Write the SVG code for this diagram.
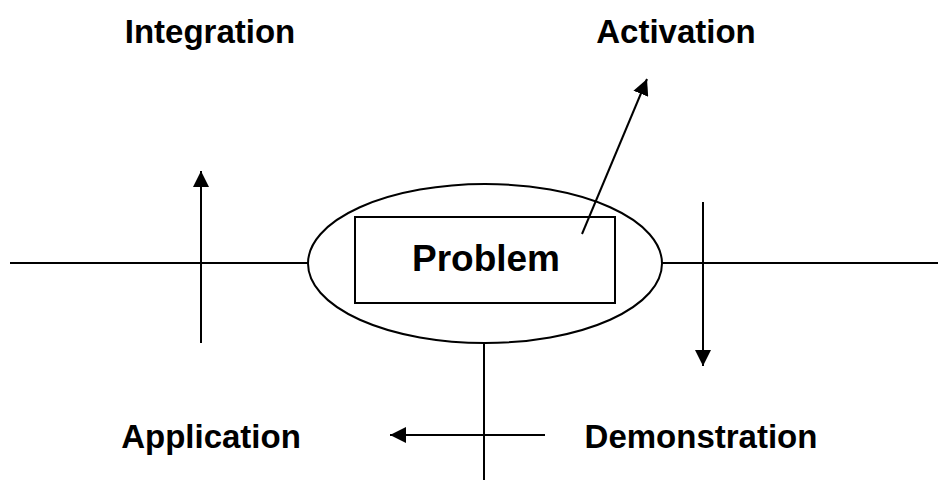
<svg xmlns="http://www.w3.org/2000/svg" width="949" height="482" viewBox="0 0 949 482">
  <style>
    .ln { stroke: #000; stroke-width: 2; fill: none; }
    .lbl { font-family: "Liberation Sans", Arial, sans-serif; font-weight: bold; font-size: 33px; fill: #000; text-anchor: middle; }
    .core { font-family: "Liberation Sans", Arial, sans-serif; font-weight: bold; font-size: 37px; fill: #000; text-anchor: middle; }
  </style>
  <defs>
    <marker id="head" viewBox="0 0 16 16" refX="16" refY="8" markerWidth="16" markerHeight="16" markerUnits="userSpaceOnUse" orient="auto">
      <path d="M0,0 L16,8 L0,16 Z" fill="#000"/>
    </marker>
  </defs>
  <rect width="949" height="482" fill="#fff"/>

  <g id="connectors">
    <!-- main horizontal axis -->
    <line class="ln" x1="10" y1="263" x2="308" y2="263"/>
    <line class="ln" x1="662" y1="263" x2="938" y2="263"/>
    <!-- vertical stem below the ellipse -->
    <line class="ln" x1="484" y1="343" x2="484" y2="480"/>
    <!-- Integration: upward arrow -->
    <line class="ln" x1="201" y1="343" x2="201" y2="171" marker-end="url(#head)"/>
    <!-- Activation: diagonal arrow out of the box -->
    <line class="ln" x1="582" y1="234" x2="647" y2="79" marker-end="url(#head)"/>
    <!-- Demonstration: downward arrow -->
    <line class="ln" x1="703" y1="202" x2="703" y2="366" marker-end="url(#head)"/>
    <!-- Application: leftward arrow -->
    <line class="ln" x1="545" y1="435" x2="390" y2="435" marker-end="url(#head)"/>
  </g>

  <g id="problem">
    <ellipse class="ln" cx="485" cy="263.5" rx="177" ry="79.5"/>
    <rect class="ln" x="355" y="217" width="260" height="86"/>
    <text class="core" x="486" y="271">Problem</text>
  </g>

  <g id="integration">
    <text class="lbl" x="210" y="43">Integration</text>
  </g>
  <g id="activation">
    <text class="lbl" x="676" y="43">Activation</text>
  </g>
  <g id="application">
    <text class="lbl" x="211" y="448">Application</text>
  </g>
  <g id="demonstration">
    <text class="lbl" x="701" y="448">Demonstration</text>
  </g>
</svg>
